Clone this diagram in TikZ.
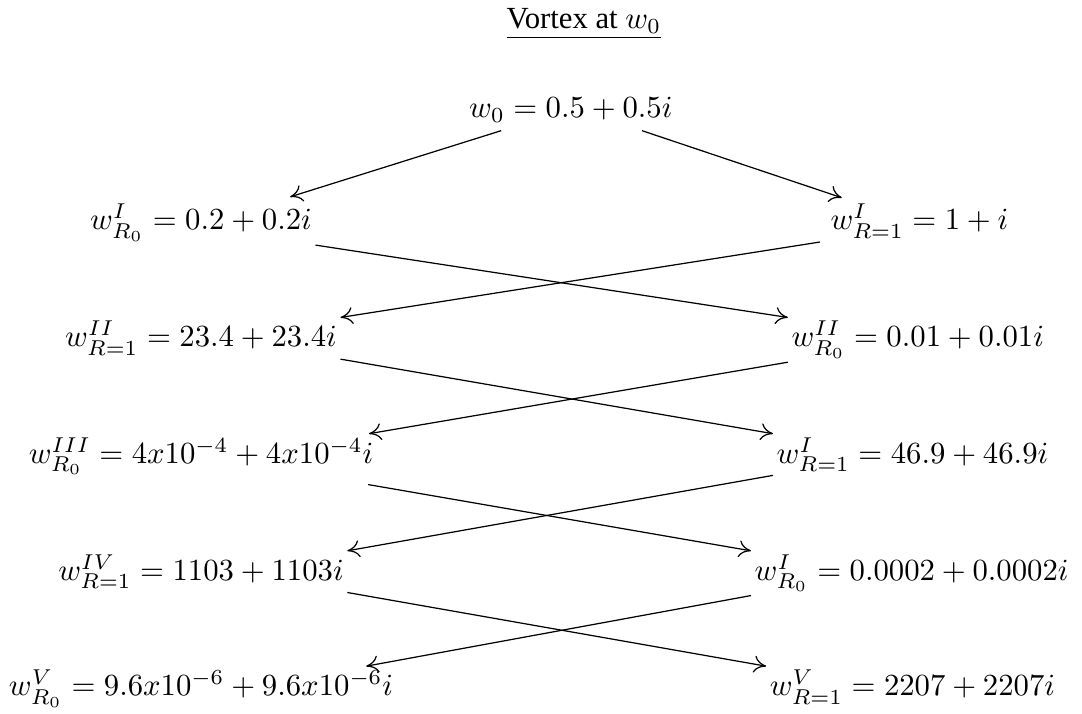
\documentclass[tikz,border=0pt]{standalone}
\usepackage[no-math]{fontspec}
\newfontfamily\titlefont{Liberation Serif}
\usetikzlibrary{arrows.meta,positioning}

\begin{document}
\begin{tikzpicture}[
  val/.style={inner sep=1pt, anchor=base},
  ttl/.style={font=\titlefont, inner sep=1pt, anchor=base},
  flow/.style={-{To[length=4pt,width=5.5pt]}, thin}
]
\useasboundingbox (0,0) rectangle (12.38,-8.16);
\node[ttl] (title) at (6.68,-0.33) {\underline{Vortex at $w_0$}};
\node[val] (w0) at (6.53,-1.35) {$w_0 = 0.5 + 0.5i$};
% left and right columns
\node[val] (l1) at (2.30,-2.63) {$w^{I}_{R_0} = 0.2 + 0.2i$};
\node[val] (r1) at (10.52,-2.63) {$w^{I}_{R=1} = 1 + i$};
\node[val] (l2) at (2.30,-3.97) {$w^{II}_{R=1} = 23.4 + 23.4i$};
\node[val] (r2) at (10.50,-3.97) {$w^{II}_{R_0} = 0.01 + 0.01i$};
\node[val] (l3) at (2.30,-5.30) {$w^{III}_{R_0} = 4x10^{-4} + 4x10^{-4}i$};
\node[val] (r3) at (10.44,-5.30) {$w^{I}_{R=1} = 46.9 + 46.9i$};
\node[val] (l4) at (2.30,-6.64) {$w^{IV}_{R=1} = 1103 + 1103i$};
\node[val] (r4) at (10.43,-6.64) {$w^{I}_{R_0} = 0.0002 + 0.0002i$};
\node[val] (l5) at (2.30,-7.96) {$w^{V}_{R_0} = 9.6x10^{-6} + 9.6x10^{-6}i$};
\node[val] (r5) at (10.44,-7.96) {$w^{V}_{R=1} = 2207 + 2207i$};

\draw[flow] ([xshift=0.41cm,yshift=-0.05cm]w0.south west) -- ([xshift=1.02cm,yshift=0.04cm]l1.north);
\draw[flow] ([xshift=-0.39cm,yshift=-0.05cm]w0.south east) -- ([xshift=0.17cm,yshift=0.03cm]r1.north west);
\draw[flow] (l1.south east) -- (r2.north west);
\draw[flow] ([xshift=-0.08cm]r1.south west) -- (l2.north east);
\draw[flow] (l2.south east) -- (r3.north west);
\draw[flow] (r2.south west) -- ([xshift=-0.09cm]l3.north east);
\draw[flow] ([xshift=-0.1cm,yshift=-0.07cm]l3.south east) -- (r4.north west);
\draw[flow] (r3.south west) -- (l4.north east);
\draw[flow] (l4.south east) -- (r5.north west);
\draw[flow] (r4.south west) -- ([xshift=-0.35cm]l5.north east);
\end{tikzpicture}
\end{document}
